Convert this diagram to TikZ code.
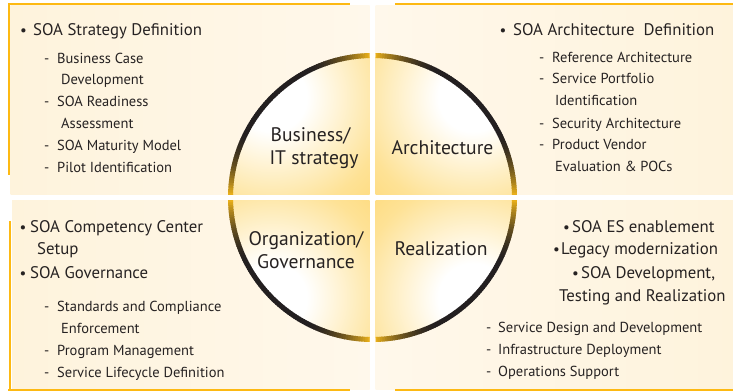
\documentclass[tikz,border=0pt]{standalone}
\usepackage{fontspec}
\setmainfont{PT Sans}
\usetikzlibrary{positioning}
\definecolor{fg}{RGB}{38,34,34}
\definecolor{rim}{RGB}{253,185,19}
\definecolor{cream}{RGB}{255,248,235}
\definecolor{creamdeep}{RGB}{254,243,220}
\definecolor{gold}{RGB}{253,196,45}
\definecolor{paleglow}{RGB}{254,226,150}
\definecolor{arcdark}{RGB}{35,31,32}
\definecolor{arcgold}{RGB}{253,190,25}
\pgfdeclareradialshading{glow}{\pgfpoint{0bp}{0bp}}{color(0bp)=(white); color(6bp)=(white); color(20bp)=(paleglow); color(45bp)=(gold); color(50bp)=(gold)}
\tikzset{
  every node/.style={text=fg, inner sep=0pt},
  % Schrift
  head/.style={anchor=base west, font=\fontsize{16.8}{20}\selectfont},
  sub/.style={anchor=base west, font=\fontsize{14.5}{17}\selectfont},
  quad/.style={anchor=base, font=\fontsize{19.6}{23}\selectfont},
  dotmark/.style={anchor=base, font=\fontsize{15}{18}\selectfont},
  % Linien
  edgeline/.style={rim, line width=2pt},
  ring/.style={line width=5pt},
}
\begin{document}
\begin{tikzpicture}[x=1pt, y=-1pt]
  \useasboundingbox (0,0) rectangle (733,391);
  \fill[white] (0,0) rectangle (733,391);
  \coordinate (C) at (372.5,197.5);
  % Felder
  \shade[left color=creamdeep, right color=cream] (10.5,5) rectangle (369.5,194.5);
  \shade[left color=cream, right color=creamdeep] (375.5,5) rectangle (733,194.5);
  \shade[left color=creamdeep, right color=cream] (12,200.5) rectangle (369.5,389);
  \shade[left color=cream, right color=creamdeep] (375.5,200.5) rectangle (733,389);
  % Randlinien
  \draw[edgeline] (8,4) -- (350,4);
  \draw[edgeline] (9,4) -- (9,175);
  \draw[edgeline] (395,4) -- (733,4);
  \draw[edgeline] (9.5,221) -- (9.5,390);
  \draw[edgeline] (8,390) -- (350,390);
  \draw[edgeline] (395,390) -- (733,390);
  % Viertelkreise
  \foreach \q/\a/\x/\y/\X/\Y in {tl/180/0/0/369.5/194.5, tr/270/375.5/0/733/194.5,
                                bl/90/0/200.5/369.5/391, br/0/375.5/200.5/733/391} {
    \begin{scope}
      \clip (\x,\y) rectangle (\X,\Y);
      \begin{scope}
        \clip (C) -- ([shift={(\a:141)}]C) arc[start angle=\a, end angle=\a+90, radius=141] -- cycle;
        \shade[shading=glow] ([shift={(\a+45:142)}]C) circle (144);
      \end{scope}
      \foreach \k in {0,...,89} {
        \pgfmathsetmacro{\u}{max(0,(abs(\k+0.5-45)/45-0.35)/0.65)}
        \pgfmathtruncatemacro{\p}{100*\u*\u}
        \draw[ring, arcgold!\p!arcdark] ([shift={(\a+\k:142)}]C)
          arc[start angle=\a+\k, end angle=\a+\k+1.3, radius=142];
      }
    \end{scope}
  }
  % Beschriftung der Viertel
  \node[quad] (q-bus) at (310.5,141) {Business/};
  \node[quad] (q-it) at (314,164) {IT strategy};
  \node[quad] (q-arch) at (442.5,154) {Architecture};
  \node[quad] (q-org) at (306,245) {Organization/};
  \node[quad] (q-gov) at (306,268) {Governance};
  \node[quad] (q-real) at (441,255) {Realization};
  % oben links
  \node[dotmark] (tl-b) at (23.5,35) {•};
  \node[head] (tl-h) at (33,35) {SOA Strategy Definition};
  \foreach \n/\x/\y/\t in {1/57/63/Business Case, 2/61/84/Development, 3/57/106/SOA Readiness,
                           4/61/128/Assessment, 5/57/150/SOA Maturity Model, 6/57/172/Pilot Identification}
    \node[sub] (tl-\n) at (\x,\y) {\t};
  \foreach \y in {63,106,150,172} \node[sub] (tl-d\y) at (44,\y) {-};
  % oben rechts
  \node[dotmark] (tr-b) at (503,35) {•};
  \node[head] (tr-h) at (513,35) {SOA Architecture\ \ Definition};
  \foreach \n/\x/\y/\t in {1/552/62/Reference Architecture, 2/552/83/Service Portfolio, 3/555/105/Identification,
                           4/552/128/Security Architecture, 5/552/149/Product Vendor, 6/555/171/{Evaluation \& POCs}}
    \node[sub] (tr-\n) at (\x,\y) {\t};
  \foreach \y in {62,83,128,149} \node[sub] (tr-d\y) at (539,\y) {-};
  % unten links
  \foreach \y in {232,278} \node[dotmark] (bl-b\y) at (23,\y) {•};
  \foreach \n/\x/\y/\t in {1/30/232/SOA Competency Center, 2/37/254/Setup, 3/30/278/SOA Governance}
    \node[head] (bl-h\n) at (\x,\y) {\t};
  \foreach \n/\x/\y/\t in {1/57/311/Standards and Compliance, 2/61/333/Enforcement,
                           3/57/355/Program Management, 4/57/377/Service Lifecycle Definition}
    \node[sub] (bl-\n) at (\x,\y) {\t};
  \foreach \y in {311,355,377} \node[sub] (bl-d\y) at (44,\y) {-};
  % unten rechts
  \foreach \n/\x/\y in {1/566.5/232, 2/556.5/254, 3/575.5/278} \node[dotmark] (br-b\n) at (\x,\y) {•};
  \foreach \n/\x/\y/\t in {1/572/232/SOA ES enablement, 2/561/254/Legacy modernization,
                           3/581/278/{SOA Development,}, 4/559/301/Testing and Realization}
    \node[head] (br-h\n) at (\x,\y) {\t};
  \foreach \n/\y/\t in {1/332/Service Design and Development, 2/354/Infrastructure Deployment, 3/376/Operations Support}
    \node[sub] (br-\n) at (498,\y) {\t};
  \foreach \y in {332,354,376} \node[sub] (br-d\y) at (486,\y) {-};
\end{tikzpicture}
\end{document}
